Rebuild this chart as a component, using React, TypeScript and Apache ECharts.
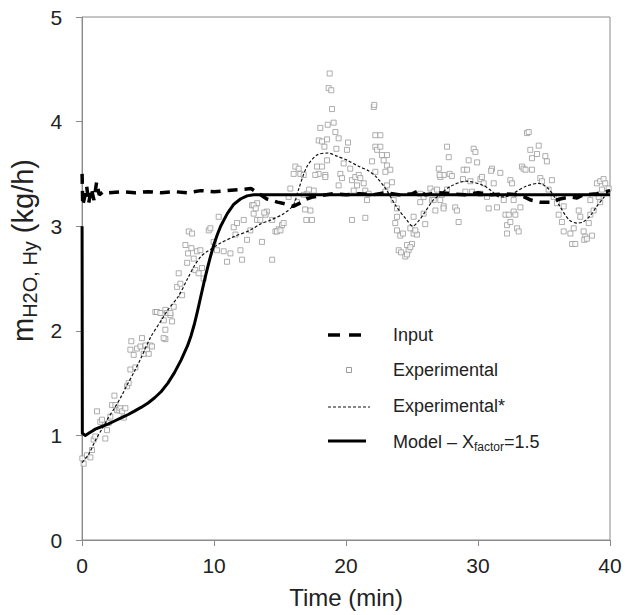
import React, { useEffect, useRef } from "react";
import * as echarts from "echarts";

const FONT = '"Liberation Sans", Arial, sans-serif';

const xTicks = [0, 10, 20, 30, 40];
const yTicks = [0, 1, 2, 3, 4, 5];

const inputData: number[][] = [
  [0, 3.5], [0.05, 3.2], [0.2, 3.28], [0.35, 3.38], [0.5, 3.22], [0.7, 3.36], [0.9, 3.25],
  [1.1, 3.42], [1.3, 3.3], [1.6, 3.33], [2, 3.32], [3, 3.33], [4, 3.32], [5, 3.33], [6, 3.32],
  [7, 3.33], [8, 3.32], [9, 3.34], [10, 3.33], [11, 3.34], [12, 3.35], [12.8, 3.36], [13.3, 3.32],
  [14, 3.26], [14.8, 3.23], [15.5, 3.21], [16, 3.19], [16.5, 3.22], [17, 3.26], [17.5, 3.28],
  [18, 3.29], [19, 3.31], [20, 3.3], [21, 3.31], [22, 3.3], [23, 3.32], [24, 3.3], [25, 3.31],
  [25.5, 3.34], [26, 3.3], [27, 3.32], [28, 3.31], [29, 3.3], [30, 3.32], [31, 3.3], [32, 3.31],
  [33, 3.3], [33.5, 3.28], [34, 3.25], [34.7, 3.23], [35.5, 3.23], [36.2, 3.26], [37, 3.28],
  [37.5, 3.27], [38, 3.3], [39, 3.31], [40, 3.34],
];

const expData: number[][] = [
  [0.02, 0.78], [0.12, 0.73], [0.37, 0.81], [0.63, 0.79], [0.75, 0.86], [0.88, 0.96], [1.0, 0.99],
  [1.13, 1.23], [1.38, 1.13], [1.51, 1.15], [1.76, 0.97], [1.89, 1.05], [2.02, 1.12], [2.14, 1.18],
  [2.27, 1.29], [2.45, 1.38], [2.52, 1.29], [2.65, 1.24], [2.78, 1.24], [2.9, 1.26], [3.03, 1.23],
  [3.16, 1.17], [3.28, 1.26], [3.41, 1.47], [3.53, 1.5], [3.66, 1.63], [4.04, 1.65], [3.66, 1.82],
  [3.73, 1.9], [3.91, 1.77], [4.16, 1.83], [4.42, 1.85], [4.54, 1.93], [4.67, 1.78], [4.8, 1.86],
  [4.92, 1.82], [5.05, 1.78], [5.17, 1.86], [5.3, 1.85], [6.31, 1.92], [6.31, 2.01], [6.18, 1.93],
  [5.55, 2.18], [6.06, 2.17], [6.31, 2.2], [6.69, 2.15], [5.68, 2.18], [5.93, 2.17], [6.19, 2.1],
  [6.44, 2.17], [6.69, 2.17], [6.82, 2.09], [6.94, 2.23], [7.2, 2.42], [7.45, 2.45], [7.58, 2.34],
  [7.32, 2.55], [7.83, 2.82], [8.03, 2.74], [7.96, 2.65], [8.28, 2.79], [8.46, 2.69], [8.71, 2.76],
  [8.96, 2.77], [8.08, 2.95], [8.33, 2.93], [8.58, 2.58], [8.83, 2.55], [9.09, 2.6], [9.21, 2.5],
  [9.6, 2.96], [9.72, 2.98], [9.97, 2.85], [10.22, 2.77], [10.35, 3.09], [10.73, 2.76], [10.98, 2.66],
  [11.24, 2.74], [11.49, 2.99], [11.74, 3.03], [12.0, 2.77], [12.12, 2.68], [11.62, 2.92], [12.25, 3.06],
  [12.5, 2.87], [12.75, 2.96], [13.0, 3.12], [13.26, 3.22], [12.88, 3.2], [13.26, 3.06], [13.0, 3.2],
  [13.16, 3.17], [14.0, 3.14], [13.9, 3.11], [14.4, 3.06], [13.5, 3.06], [15.15, 3.01], [14.65, 2.95],
  [14.9, 2.97], [14.4, 2.68], [13.63, 2.85], [13.8, 3.13], [14.77, 2.95], [15.03, 2.96], [15.27, 3.03],
  [15.78, 3.36], [15.65, 3.28], [16.29, 3.23], [17.04, 3.31], [17.3, 3.15], [17.42, 3.06], [16.16, 3.57],
  [16.41, 3.55], [16.54, 3.5], [16.03, 3.5], [16.79, 3.49], [17.8, 3.57], [17.92, 3.5], [17.67, 3.49],
  [18.43, 3.49], [18.56, 3.63], [17.55, 3.34], [16.79, 3.3], [16.9, 3.16], [16.99, 3.06], [17.2, 3.35],
  [18.76, 4.46], [18.68, 4.32], [18.88, 4.3], [18.94, 4.12], [18.05, 3.94], [18.61, 3.97], [19.06, 3.99],
  [19.19, 3.9], [19.44, 3.84], [17.93, 3.82], [18.18, 3.81], [18.36, 3.76], [18.56, 3.83], [19.27, 3.74],
  [20.15, 3.8], [20.07, 3.73], [19.82, 3.6], [20.32, 3.55], [19.57, 3.5], [19.69, 3.46], [19.44, 3.39],
  [18.43, 3.47], [18.18, 3.57], [20.45, 3.44], [20.7, 3.47], [20.96, 3.49], [21.08, 3.46], [20.83, 3.39],
  [20.58, 3.34], [21.34, 3.41], [21.46, 3.34], [21.71, 3.31], [21.59, 3.25], [20.45, 3.06], [21.46, 3.08],
  [21.97, 3.62], [22.1, 4.14], [22.14, 4.16], [22.22, 3.87], [22.6, 3.87], [22.22, 3.76], [22.35, 3.73],
  [22.6, 3.76], [22.72, 3.68], [23.1, 3.68], [22.85, 3.63], [23.1, 3.58], [22.22, 3.52], [23.35, 3.54],
  [22.98, 3.52], [23.48, 3.42], [23.1, 3.39], [22.98, 3.33], [23.61, 3.25], [23.86, 3.17], [23.86, 3.09],
  [23.86, 2.96], [24.11, 2.91], [24.31, 2.93], [23.73, 3.03], [23.99, 2.77], [24.17, 2.75], [24.62, 2.82],
  [24.74, 2.77], [24.49, 2.71], [24.62, 2.73], [25.0, 2.83], [25.12, 2.93], [25.37, 2.92], [24.87, 2.98],
  [25.25, 2.96], [25.12, 3.09], [26.0, 3.02], [25.88, 3.12], [25.62, 3.23], [25.62, 3.31], [25.88, 3.28],
  [26.39, 3.36], [26.64, 3.33], [26.51, 3.25], [26.77, 3.15], [27.4, 3.19], [27.03, 3.55], [27.15, 3.47],
  [27.4, 3.49], [27.65, 3.76], [27.78, 3.66], [27.65, 3.35], [24.87, 2.8], [27.09, 3.49], [27.85, 3.5],
  [28.02, 3.48], [26.89, 3.35], [26.64, 3.25], [27.27, 3.3], [27.39, 3.17], [27.14, 3.25], [28.27, 3.18],
  [28.4, 3.15], [28.53, 3.04], [28.91, 3.54], [28.86, 3.45], [29.17, 3.54], [29.29, 3.63], [29.67, 3.74],
  [29.8, 3.71], [29.93, 3.61], [29.42, 3.43], [29.04, 3.33], [29.55, 3.33], [30.18, 3.45], [30.3, 3.47],
  [30.43, 3.41], [30.18, 3.31], [30.68, 3.28], [30.81, 3.17], [31.06, 3.55], [30.99, 3.53], [31.19, 3.41],
  [31.44, 3.18], [31.69, 3.51], [31.95, 3.25], [32.08, 3.11], [32.33, 3.11], [32.2, 3.01], [32.45, 3.04],
  [32.2, 2.93], [32.7, 3.14], [32.83, 3.11], [32.7, 3.25], [32.96, 2.98], [33.08, 2.95], [32.45, 3.44],
  [32.58, 3.41], [33.21, 3.18], [33.33, 3.57], [33.45, 3.55], [33.6, 3.54], [33.71, 3.89], [33.84, 3.9],
  [33.96, 3.73], [34.09, 3.65], [34.47, 3.69], [34.6, 3.77], [35.1, 3.67], [35.22, 3.62], [34.09, 3.54],
  [34.72, 3.46], [34.85, 3.43], [35.6, 3.44], [35.35, 3.35], [35.73, 3.28], [35.98, 3.22], [36.11, 3.11],
  [36.49, 3.19], [36.36, 3.04], [36.49, 2.95], [37.0, 2.93], [37.25, 2.98], [37.13, 2.83], [37.37, 2.83],
  [37.63, 3.15], [37.75, 3.09], [38.0, 2.95], [38.13, 2.9], [38.05, 2.87], [38.25, 2.88], [38.39, 3.03],
  [38.51, 3.11], [38.64, 2.91], [38.76, 3.15], [38.51, 3.25], [39.01, 3.41], [39.26, 3.43], [39.51, 3.45],
  [39.64, 3.41], [39.9, 3.36], [39.39, 3.35], [39.14, 3.28], [39.26, 3.23],
];

const expSmoothData: number[][] = [
  [0, 0.74], [0.5, 0.82], [1, 0.95], [1.5, 1.06], [1.9, 1.15], [2.5, 1.27], [3, 1.38], [3.4, 1.48],
  [4, 1.62], [4.5, 1.75], [5.2, 1.94], [6, 2.1], [6.5, 2.2], [7.3, 2.33], [8, 2.5], [8.5, 2.62],
  [9, 2.71], [9.5, 2.76], [10, 2.8], [10.5, 2.84], [11.5, 2.9], [12.7, 2.96], [13.5, 3.02],
  [14.3, 3.06], [15.27, 3.12], [16.0, 3.2], [16.4, 3.35], [17.04, 3.57], [17.8, 3.68], [18.65, 3.7],
  [19.3, 3.67], [20.1, 3.63], [21, 3.57], [21.7, 3.53], [22.3, 3.47], [23.05, 3.35], [23.8, 3.19],
  [24.6, 3.06], [25.05, 3.0], [25.5, 3.05], [25.9, 3.12], [26.6, 3.25], [26.9, 3.28], [27.9, 3.38],
  [29.1, 3.43], [30.4, 3.39], [31, 3.34], [31.6, 3.28], [32, 3.28], [32.6, 3.31], [33.6, 3.38],
  [34.6, 3.41], [35.4, 3.35], [36.2, 3.19], [36.9, 3.06], [37.5, 3.03], [37.95, 3.04], [38.5, 3.1],
  [39, 3.19], [39.5, 3.27], [40, 3.35],
];

const modelData: number[][] = [
  [0, 3.0], [0.02, 1.02], [0.25, 1.0], [0.5, 1.02], [0.75, 1.04], [1, 1.06], [1.5, 1.085], [2, 1.11],
  [2.5, 1.14], [3, 1.17], [3.5, 1.2], [4, 1.235], [4.5, 1.27], [5, 1.31], [5.5, 1.36], [6, 1.42],
  [6.5, 1.5], [7, 1.6], [7.5, 1.72], [8, 1.86], [8.25, 1.95], [8.5, 2.06], [8.75, 2.19], [9, 2.33],
  [9.25, 2.47], [9.5, 2.6], [9.75, 2.72], [10, 2.83], [10.25, 2.92], [10.5, 3.0], [10.75, 3.06],
  [11, 3.12], [11.5, 3.21], [12, 3.26], [12.5, 3.29], [13, 3.3], [40, 3.3],
];

export default function App() {
  const ref = useRef<HTMLDivElement>(null);

  useEffect(() => {
    if (!ref.current) return;
    const chart = echarts.init(ref.current, undefined, { renderer: "svg" });
    const axisColor = "#8a8a8a";
    const textColor = "#222";
    const option: any = {
      animation: false,
      grid: {
        left: 82, right: 15, top: 17, bottom: 75,
        show: true, borderColor: axisColor, borderWidth: 1,
      },
      xAxis: {
        type: "value", min: xTicks[0], max: xTicks[xTicks.length - 1], interval: 10,
        axisLine: { show: true, lineStyle: { color: axisColor, width: 1 } },
        axisTick: { show: true, length: 6, lineStyle: { color: axisColor } },
        splitLine: { show: false },
        axisLabel: { fontSize: 21, color: textColor, margin: 15, fontFamily: FONT },
        name: "Time (min)", nameLocation: "middle", nameGap: 45,
        nameTextStyle: { fontSize: 24, color: textColor, fontFamily: FONT },
      },
      yAxis: {
        type: "value", min: yTicks[0], max: yTicks[yTicks.length - 1], interval: 1,
        axisLine: { show: true, lineStyle: { color: axisColor, width: 1 } },
        axisTick: { show: true, length: 6, lineStyle: { color: axisColor } },
        splitLine: { show: false },
        axisLabel: { fontSize: 21, color: textColor, margin: 20, fontFamily: FONT },
        name: "{m|m}{s|H2O, Hy}{m| (kg/h)}",
        nameLocation: "middle", nameRotate: 90, nameGap: 30,
        nameTextStyle: {
          color: textColor, fontFamily: FONT,
          padding: [0, 0, 0, 56],
          rich: {
            m: { fontSize: 29, fontFamily: FONT, color: textColor, lineHeight: 34, verticalAlign: "middle" },
            s: { fontSize: 20, fontFamily: FONT, color: textColor, lineHeight: 20, verticalAlign: "bottom" },
          },
        },
      },
      series: [
        {
          name: "Experimental", type: "scatter", data: expData,
          symbol: "rect", symbolSize: 5,
          itemStyle: { color: "#ffffff", borderColor: "#9a9a9a", borderWidth: 1 },
          z: 2,
        },
        {
          name: "Experimental*", type: "line", data: expSmoothData,
          showSymbol: false, symbol: "none", smooth: 0.3,
          lineStyle: { color: "#111", width: 1.2, type: [3, 2] },
          z: 3,
        },
        {
          name: "Model", type: "line", data: modelData,
          showSymbol: false, symbol: "none", smooth: false,
          lineStyle: { color: "#000", width: 3, join: "round" },
          z: 4,
        },
        {
          name: "Input", type: "line", data: inputData,
          showSymbol: false, symbol: "none",
          lineStyle: { color: "#000", width: 3.5, type: [10, 7] },
          z: 5,
        },
      ],
      graphic: [
        { type: "line", shape: { x1: 328, y1: 335, x2: 340, y2: 335 }, style: { stroke: "#000", lineWidth: 3.5 } },
        { type: "line", shape: { x1: 349, y1: 335, x2: 361, y2: 335 }, style: { stroke: "#000", lineWidth: 3.5 } },
        { type: "rect", shape: { x: 346.5, y: 367.5, width: 5, height: 5 }, style: { fill: "#fff", stroke: "#9a9a9a", lineWidth: 1 } },
        { type: "line", shape: { x1: 328, y1: 407, x2: 370, y2: 407 }, style: { stroke: "#111", lineWidth: 1.2, lineDash: [3, 2] } },
        { type: "line", shape: { x1: 328, y1: 441, x2: 366, y2: 441 }, style: { stroke: "#000", lineWidth: 3 } },
        { type: "text", x: 393, y: 335, style: { text: "Input", fontSize: 18, fontFamily: FONT, fill: textColor, verticalAlign: "middle" } },
        { type: "text", x: 393, y: 370, style: { text: "Experimental", fontSize: 18, fontFamily: FONT, fill: textColor, verticalAlign: "middle" } },
        { type: "text", x: 393, y: 406, style: { text: "Experimental*", fontSize: 18, fontFamily: FONT, fill: textColor, verticalAlign: "middle" } },
        {
          type: "text", x: 393, y: 442,
          style: {
            text: "{a|Model – X}{b|factor}{a|=1.5}", fill: textColor, verticalAlign: "middle",
            rich: {
              a: { fontSize: 18, fontFamily: FONT, fill: textColor, lineHeight: 22, verticalAlign: "middle" },
              b: { fontSize: 12, fontFamily: FONT, fill: textColor, lineHeight: 12, verticalAlign: "bottom" },
            },
          },
        },
      ],
    };
    chart.setOption(option);
    return () => chart.dispose();
  }, []);

  return (
    <div
      ref={ref}
      style={{ position: "fixed", left: 0, top: 0, width: 625, height: 615, background: "#fff" }}
    />
  );
}
